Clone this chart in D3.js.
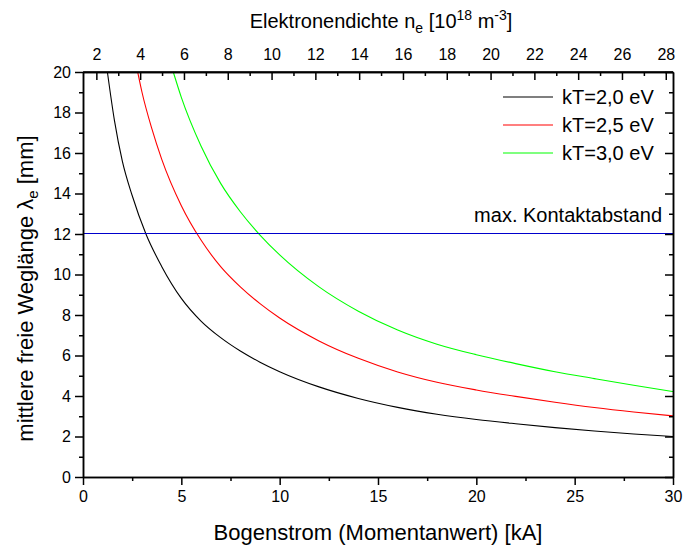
<html>
<head>
<script type="text/javascript" src="https://cdn.jsdelivr.net/npm/d3@7"></script>
<style>
	body{ margin:0; background:#fff; }
	svg{ font-family:"Liberation Sans", Arial, sans-serif; }
	.axis path, .axis line{ stroke:#000; stroke-width:1.5; }
	.axis text{ font-size:16px; fill:#000; }
</style>
</head>
<body>
<div id="container"></div>
<script type="text/javascript">

// Bogenstrom [kA] und mittlere freie Weglaenge [mm]
var strom20  = [1.24, 1.6, 2.0, 2.5, 3.2, 4, 5, 6, 7, 8, 9, 10, 12, 14, 16, 18, 20, 22, 24, 26, 28, 30];
var lambda20 = [20, 17.6, 15.6, 13.9, 12.0, 10.4, 8.82, 7.70, 6.88, 6.22, 5.67, 5.2, 4.45, 3.88, 3.44, 3.1, 2.84, 2.63, 2.44, 2.27, 2.12, 2.0];

var strom25  = [2.78, 3, 3.5, 4, 5, 6, 7, 8, 9, 10, 12, 14, 16, 18, 20, 22, 24, 26, 28, 30];
var lambda25 = [20, 19.0, 17.2, 15.7, 13.4, 11.7, 10.39, 9.39, 8.56, 7.85, 6.72, 5.86, 5.19, 4.68, 4.3, 3.98, 3.69, 3.43, 3.21, 3.02];

var strom30  = [4.59, 5, 6, 7, 8, 9, 10, 12, 14, 16, 18, 20, 22, 24, 26, 28, 30];
var lambda30 = [20, 18.75, 16.35, 14.5, 13.1, 11.95, 10.97, 9.39, 8.19, 7.26, 6.56, 6.04, 5.6, 5.2, 4.86, 4.53, 4.22];

var serienNamen  = ["kT=2,0 eV", "kT=2,5 eV", "kT=3,0 eV"];
var serienFarben = ["#000000", "#ff0000", "#00ff00"];

var kontaktabstand = 12;

var xTicks    = [0, 5, 10, 15, 20, 25, 30];
var yTicks    = [0, 2, 4, 6, 8, 10, 12, 14, 16, 18, 20];
var topTicks  = [2, 4, 6, 8, 10, 12, 14, 16, 18, 20, 22, 24, 26, 28];
var topDomain = [1.39, 28.33]; // Elektronendichte am linken / rechten Rand

var width = 686, height = 549;
var m = {left: 83, right: 13, top: 72, bottom: 72};
var w = width - m.left - m.right,
	h = height - m.top - m.bottom;

var svg = d3.select("#container")
	.append("svg")
		.attr("width", width)
		.attr("height", height);

var x = d3.scaleLinear().domain([0, 30]).range([0, w]);
var xTop = d3.scaleLinear().domain(topDomain).range([0, w]);
var y = d3.scaleLinear().domain([0, 20]).range([h, 0]);

var g = svg.append("g")
	.attr("transform", "translate(" + m.left + "," + m.top + ")");

// Kurven
var serien = [
	d3.zip(strom20, lambda20),
	d3.zip(strom25, lambda25),
	d3.zip(strom30, lambda30)
];

var line = d3.line()
	.x(function(d){ return x(d[0]); })
	.y(function(d){ return y(d[1]); })
	.curve(d3.curveMonotoneX);

g.selectAll("path.kurve").data(serien).enter().append("path")
	.attr("class", "kurve")
	.attr("d", line)
	.attr("fill", "none")
	.attr("stroke-width", 1.1)
	.attr("stroke", function(d, i){ return serienFarben[i]; });

// max. Kontaktabstand
g.append("line")
	.attr("x1", 0).attr("x2", w)
	.attr("y1", y(kontaktabstand) - 0.5).attr("y2", y(kontaktabstand) - 0.5)
	.attr("stroke", "#0000cc")
	.attr("stroke-width", 1)
	.attr("shape-rendering", "crispEdges");

g.append("text")
	.attr("x", w - 11)
	.attr("y", y(kontaktabstand) - 12)
	.attr("text-anchor", "end")
	.style("font-size", "20px")
	.text("max. Kontaktabstand");

// Achsen
function minor(ticks, step){
	var out = [];
	ticks.forEach(function(t){ out.push(t + step); });
	return out;
}

g.append("g").attr("class", "axis")
	.attr("transform", "translate(0," + h + ")")
	.call(d3.axisBottom(x).tickValues(xTicks).tickSize(8).tickSizeOuter(0).tickPadding(6));
g.append("g").attr("class", "axis")
	.attr("transform", "translate(0," + h + ")")
	.call(d3.axisBottom(x).tickValues(minor(xTicks.slice(0, -1), 2.5)).tickSize(4).tickSizeOuter(0).tickFormat(""));

g.append("g").attr("class", "axis")
	.call(d3.axisLeft(y).tickValues(yTicks).tickSize(8).tickSizeOuter(0).tickPadding(4));
g.append("g").attr("class", "axis")
	.call(d3.axisLeft(y).tickValues(minor(yTicks.slice(0, -1), 1)).tickSize(4).tickSizeOuter(0).tickFormat(""));

g.append("g").attr("class", "axis")
	.attr("transform", "translate(" + w + ",0)")
	.call(d3.axisRight(y).tickValues(yTicks).tickSize(-8).tickSizeOuter(0).tickFormat(""));
g.append("g").attr("class", "axis")
	.attr("transform", "translate(" + w + ",0)")
	.call(d3.axisRight(y).tickValues(minor(yTicks.slice(0, -1), 1)).tickSize(-4).tickSizeOuter(0).tickFormat(""));

g.append("g").attr("class", "axis")
	.call(d3.axisTop(xTop).tickValues(topTicks).tickSize(-8).tickSizeOuter(0).tickPadding(12));
g.append("g").attr("class", "axis")
	.call(d3.axisTop(xTop).tickValues(minor(topTicks, 1).filter(function(t){ return t < topDomain[1]; })).tickSize(-4).tickSizeOuter(0).tickFormat(""));

// Rahmen oben
g.append("line")
	.attr("x1", 0).attr("x2", w).attr("y1", 0).attr("y2", 0)
	.attr("stroke", "#000").attr("stroke-width", 1.5);

// Legende
var legend = g.selectAll("g.legend").data(serienNamen).enter().append("g")
	.attr("class", "legend")
	.attr("transform", function(d, i){ return "translate(420," + (25 + i * 28) + ")"; });

legend.append("line")
	.attr("x1", 0).attr("x2", 50)
	.attr("stroke-width", 1.1)
	.attr("stroke", function(d, i){ return serienFarben[i]; });

legend.append("text")
	.attr("x", 59)
	.attr("y", 7)
	.style("font-size", "20px")
	.text(function(d){ return d; });

// Achsentitel
svg.append("text")
	.attr("x", m.left + w / 2)
	.attr("y", 540)
	.attr("text-anchor", "middle")
	.style("font-size", "22px")
	.text("Bogenstrom (Momentanwert) [kA]");

var topTitle = svg.append("text")
	.attr("x", m.left + w / 2 + 3)
	.attr("y", 28)
	.attr("text-anchor", "middle")
	.style("font-size", "20px");
topTitle.append("tspan").text("Elektronendichte n");
topTitle.append("tspan").attr("dy", 5).style("font-size", "14px").text("e");
topTitle.append("tspan").attr("dy", -5).text(" [10");
topTitle.append("tspan").attr("dy", -8).style("font-size", "14px").text("18");
topTitle.append("tspan").attr("dy", 8).text(" m");
topTitle.append("tspan").attr("dy", -8).style("font-size", "14px").text("-3");
topTitle.append("tspan").attr("dy", 8).text("]");

var yTitle = svg.append("text")
	.attr("transform", "translate(33," + (m.top + h / 2 + 14) + ") rotate(-90)")
	.attr("text-anchor", "middle")
	.style("font-size", "22px");
yTitle.append("tspan").text("mittlere freie Weglänge λ");
yTitle.append("tspan").attr("dy", 5).style("font-size", "15px").text("e");
yTitle.append("tspan").attr("dy", -5).text(" [mm]");

</script>
</body>
</html>
